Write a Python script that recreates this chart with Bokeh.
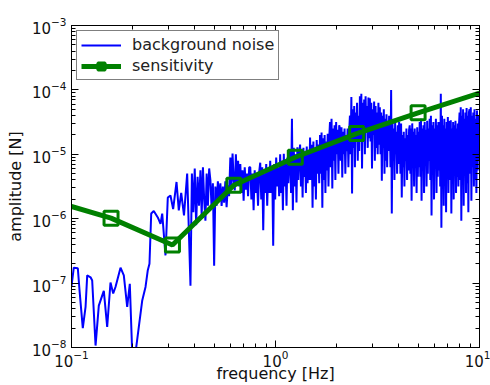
import numpy as np
from bokeh.plotting import figure
from bokeh.models import LogAxis, Legend, LegendItem, FixedTicker, LogTickFormatter
from bokeh.embed import file_html
from bokeh.resources import INLINE

# ---------------- data ----------------
sens_freq = [0.1, 0.15625, 0.3125, 0.625, 1.25, 2.5, 5.0, 10.0]
sens_amp = [1.55e-6, 1.02e-6, 3.9e-7, 3.3e-6, 9.0e-6, 2.1e-5, 4.4e-5, 8.9e-5]
marker_freq = sens_freq[1:-1]
marker_amp = sens_amp[1:-1]

# low-frequency part of the noise (Hz, log10 N)
low_noise_freq = [0.1000, 0.1026, 0.1074, 0.1094, 0.1136, 0.1172, 0.1194, 0.1240,
                  0.1263, 0.1312, 0.1361, 0.1440, 0.1496, 0.1553, 0.1601, 0.1643,
                  0.1739, 0.1805, 0.1875, 0.1931, 0.2000, 0.2138, 0.2222, 0.2306,
                  0.2366, 0.2411, 0.2459, 0.2531, 0.2649, 0.2731, 0.2784, 0.2889,
                  0.2965, 0.3056, 0.3150, 0.3272, 0.3357, 0.3450, 0.3560, 0.3690]
low_noise_log = [-7.05, -6.76, -6.77, -7.10, -7.70, -7.37, -6.88, -6.91,
                 -6.96, -7.97, -7.35, -7.12, -7.68, -6.99, -7.16, -7.06,
                 -6.76, -6.88, -7.37, -7.01, -8.40, -7.68, -7.27, -7.06,
                 -6.80, -6.70, -5.92, -5.88, -5.98, -6.08, -5.92, -6.57,
                 -5.67, -5.64, -5.85, -5.43, -5.87, -5.60, -5.95, -5.30]

# dense part of the noise, 0.383 Hz .. 10 Hz, read block by block (log10 N)
dense_f_lo, dense_f_hi = 0.383, 10.0
dense_noise_blocks = [
    [-7.04, -5.30, -5.90, -5.22, -6.10, -5.35, -5.80],
    [-5.25, -5.95, -5.20, -5.70, -6.03, -5.30, -5.80, -5.22],
    [-5.40, -5.85, -5.45, -6.73, -5.50, -5.80, -5.42, -5.70],
    [-5.45, -5.80, -5.50, -5.75, -5.42, -5.82, -5.48, -5.65],
    [-5.05, -5.50, -4.99, -5.40, -5.56, -5.00, -5.45, -5.10, -5.50],
    [-5.15, -5.60, -5.25, -5.72, -5.20, -5.55, -5.30, -5.65, -5.20],
    [-5.20, -5.70, -5.30, -5.87, -5.25, -5.60, -5.35, -5.80, -5.28],
    [-5.13, -5.70, -5.20, -6.18, -5.30, -5.60, -5.15, -5.80, -5.25, -5.60],
    [-5.10, -5.60, -5.20, -6.42, -5.15, -5.70, -5.05, -5.50, -5.20, -5.65],
    [-5.00, -5.60, -5.10, -5.87, -4.99, -5.50, -5.15, -5.80, -5.05, -5.45, -5.10],
    [-4.95, -5.60, -4.45, -5.87, -4.90, -5.50, -5.00, -5.75, -4.89, -5.40, -5.00],
    [-4.85, -5.50, -4.95, -5.67, -4.90, -5.35, -5.00, -5.60, -4.88, -5.45, -4.95, -5.40],
    [-4.74, -5.40, -4.85, -5.83, -4.80, -5.50, -4.90, -5.70, -4.78, -5.30, -4.85, -5.45],
    [-4.70, -5.30, -4.66, -5.83, -4.75, -5.40, -4.70, -5.60, -4.80, -5.25, -4.68, -5.50, -4.75],
    [-4.50, -5.20, -4.45, -5.53, -4.60, -5.10, -4.55, -5.40, -4.50, -5.00, -4.62, -5.30, -4.55],
    [-4.60, -5.10, -4.58, -5.36, -4.65, -5.00, -4.60, -5.30, -4.70, -4.95, -4.60, -5.20, -4.65],
    [-4.40, -5.00, -4.11, -5.61, -4.30, -4.90, -4.25, -5.20, -4.35, -4.80, -4.20, -5.10, -4.40, -4.95],
    [-4.10, -4.80, -4.06, -5.22, -4.20, -4.70, -4.15, -5.00, -4.10, -4.65, -4.25, -4.90, -4.12, -4.75],
    [-4.13, -4.80, -4.20, -5.22, -4.30, -4.70, -4.18, -5.10, -4.25, -4.90, -4.35, -5.00, -4.20, -4.85],
    [-4.27, -5.00, -4.35, -5.41, -4.40, -4.90, -4.30, -5.30, -4.45, -5.10, -4.38, -5.20, -4.50, -4.95, -4.40],
    [-4.45, -5.20, -4.00, -5.92, -4.50, -5.10, -4.60, -5.40, -4.50, -5.00, -4.65, -5.30, -4.55, -5.15, -4.50],
    [-4.60, -5.30, -4.52, -5.67, -4.70, -5.20, -4.65, -5.50, -4.75, -5.10, -4.60, -5.40, -4.70, -5.25, -4.62],
    [-4.55, -5.30, -4.60, -5.72, -4.52, -5.20, -4.65, -5.50, -4.60, -5.10, -4.70, -5.60, -4.58, -5.35, -4.65, -5.20],
    [-4.50, -5.35, -4.45, -5.72, -4.60, -5.20, -4.55, -5.60, -4.50, -5.15, -4.62, -5.50, -4.48, -5.30, -4.60, -5.10],
    [-4.45, -5.40, -4.40, -5.95, -4.55, -5.30, -4.50, -5.70, -4.60, -5.20, -4.45, -5.60, -4.55, -5.35, -4.50, -5.25],
    [-4.50, -5.50, -4.06, -6.14, -4.40, -5.30, -4.55, -5.80, -4.45, -5.40, -4.60, -5.90, -4.50, -5.25, -4.42, -5.60, -4.50],
    [-4.50, -5.40, -4.47, -5.92, -4.60, -5.30, -4.50, -5.70, -4.55, -5.20, -4.48, -5.60, -4.60, -5.35, -4.52, -5.50, -4.55],
    [-4.35, -5.40, -4.27, -6.03, -4.40, -5.30, -4.30, -5.80, -4.45, -5.20, -4.35, -5.60, -4.28, -5.45, -4.40, -5.90, -4.35],
    [-4.30, -5.30, -4.27, -5.72, -4.40, -5.20, -4.35, -5.50, -4.30, -5.40, -4.45, -5.60, -4.32, -5.25, -4.40, -5.10],
]

x_major_ticks = [0.1, 1.0, 10.0]
y_major_ticks = [1e-8, 1e-7, 1e-6, 1e-5, 1e-4, 1e-3]

x_label = "frequency [Hz]"
y_label = "amplitude [N]"
noise_label = "background noise"
sens_label = "sensitivity"

# ---------------- assemble noise ----------------
edges = np.linspace(np.log10(dense_f_lo), np.log10(dense_f_hi), len(dense_noise_blocks) + 1)
dense_f = []
dense_v = []
for i, blk in enumerate(dense_noise_blocks):
    dense_f.extend(10 ** np.linspace(edges[i], edges[i + 1], len(blk), endpoint=False))
    dense_v.extend(blk)
noise_freq = list(low_noise_freq) + dense_f
noise_amp = list(10 ** np.array(list(low_noise_log) + dense_v))


def minors(majors):
    return [m * k for m in majors[:-1] for k in range(2, 10)]


# ---------------- figure ----------------
FONT = "DejaVu Sans"
p = figure(width=490, height=385, x_axis_type="log", y_axis_type="log",
           x_range=(0.1, 10), y_range=(1e-8, 1e-3),
           output_backend="svg", toolbar_location=None,
           min_border_left=71, min_border_right=11, min_border_top=25, min_border_bottom=38)
p.grid.visible = False
p.outline_line_color = "black"
p.outline_line_width = 1
p.background_fill_color = "white"
p.border_fill_color = "white"


def style_axis(ax, majors, labels=True):
    ax.ticker = FixedTicker(ticks=majors, minor_ticks=minors(majors))
    ax.formatter = LogTickFormatter()
    ax.axis_line_color = "black"
    ax.major_tick_in = 7
    ax.major_tick_out = 0
    ax.minor_tick_in = 4
    ax.minor_tick_out = 0
    ax.major_tick_line_color = "black"
    ax.minor_tick_line_color = "black"
    if labels:
        ax.major_label_text_font = FONT
        ax.major_label_text_font_size = "15px"
        ax.major_label_text_color = "#111111"
        ax.major_label_standoff = 5
        ax.axis_label_text_font = FONT
        ax.axis_label_text_font_size = "16px"
        ax.axis_label_text_font_style = "normal"
        ax.axis_label_text_color = "#111111"
        ax.axis_label_standoff = 4
    else:
        ax.major_label_text_font_size = "2px"
        ax.major_label_text_alpha = 0
        ax.major_label_standoff = 0


style_axis(p.xaxis[0], x_major_ticks)
style_axis(p.yaxis[0], y_major_ticks)
p.xaxis[0].axis_label = x_label
p.yaxis[0].axis_label = y_label
p.xaxis[0].axis_label_standoff = -6
p.xaxis[0].major_label_standoff = 2

top_ax = LogAxis()
right_ax = LogAxis()
style_axis(top_ax, x_major_ticks, labels=False)
style_axis(right_ax, y_major_ticks, labels=False)
p.add_layout(top_ax, "above")
p.add_layout(right_ax, "right")

r_noise = p.line(noise_freq, noise_amp, line_color="#0000ff", line_width=2)
r_sens = p.line(sens_freq, sens_amp, line_color="#008000", line_width=5)
r_mark = p.scatter(marker_freq, marker_amp, marker="square", size=14,
                   line_color="#008000", line_width=3, fill_alpha=0)

legend = Legend(items=[LegendItem(label=noise_label, renderers=[r_noise]),
                       LegendItem(label=sens_label, renderers=[r_sens, r_mark])],
                location="top_left")
legend.margin = 5
legend.padding = 4
legend.spacing = 2
legend.glyph_height = 18
legend.glyph_width = 40
legend.label_standoff = 11
legend.label_text_font = FONT
legend.label_text_font_size = "16px"
legend.label_text_color = "#222222"
legend.border_line_color = "black"
legend.border_line_width = 1
legend.background_fill_color = "white"
legend.background_fill_alpha = 1
p.add_layout(legend)

open("out.html", "w").write(file_html(p, INLINE))
